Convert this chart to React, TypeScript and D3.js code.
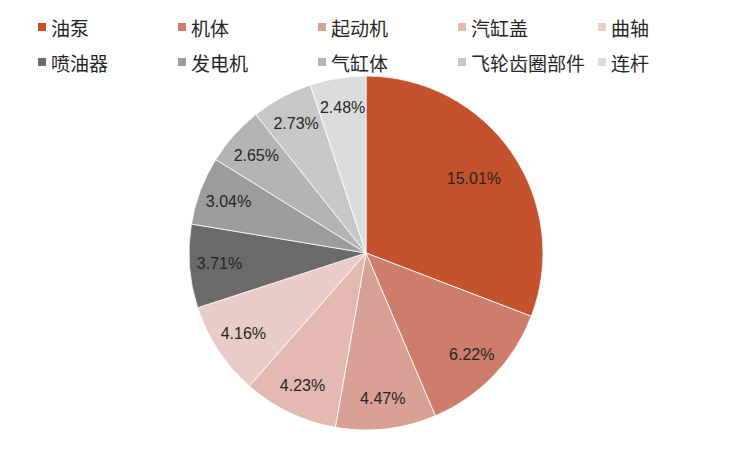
import * as d3 from "d3";

const categories = ["油泵", "机体", "起动机", "汽缸盖", "曲轴", "喷油器", "发电机", "气缸体", "飞轮齿圈部件", "连杆"];
const values = [15.01, 6.22, 4.47, 4.23, 4.16, 3.71, 3.04, 2.65, 2.73, 2.48];
const colors = [
  "#c4532d",
  "#ce7c6c",
  "#d9a095",
  "#e2b8b0",
  "#e9ccc7",
  "#6a6a6a",
  "#9c9c9c",
  "#b4b4b4",
  "#c7c7c7",
  "#dcdcdc",
];

const W = 750;
const H = 450;
const cx = 366;
const cy = 253;
const R = 177;

export default function App() {
  const pie = d3
    .pie<number>()
    .sort(null)
    .value((d) => d);
  const arcs = pie(values);
  const arc = d3.arc<d3.PieArcDatum<number>>().innerRadius(0).outerRadius(R);

  // labels sit near the rim, except a very wide slice which gets pulled in a bit
  const labelPos = (a: d3.PieArcDatum<number>) => {
    const k = a.endAngle - a.startAngle > Math.PI / 2 ? 0.74 : 0.83;
    const mid = (a.startAngle + a.endAngle) / 2;
    return [Math.sin(mid) * R * k, -Math.cos(mid) * R * k];
  };

  // legend: 2 rows x 5 columns
  const colX = d3.scaleLinear().domain([0, 1]).range([38, 178]);
  const rowY = d3.scaleLinear().domain([0, 1]).range([27, 62]);

  return (
    <svg
      width={W}
      height={H}
      style={{ display: "block", position: "absolute", left: 0, top: 0, background: "#fff" }}
    >
      <rect width={W} height={H} fill="#fff" />
      <g transform={`translate(${cx},${cy})`}>
        {arcs.map((a, i) => (
          <path key={i} d={arc(a) ?? ""} fill={colors[i]} stroke="#fff" strokeWidth={0.8} />
        ))}
        {arcs.map((a, i) => {
          const [x, y] = labelPos(a);
          return (
            <text
              key={i}
              x={x}
              y={y}
              textAnchor="middle"
              dominantBaseline="central"
              fontFamily="'Liberation Sans', Arial, sans-serif"
              fontSize={16}
              fill="#262626"
            >
              {values[i].toFixed(2)}%
            </text>
          );
        })}
      </g>
      <g>
        {categories.map((c, i) => {
          const col = i % 5;
          const row = Math.floor(i / 5);
          const x = colX(col);
          const y = rowY(row);
          return (
            <g key={c}>
              <rect x={x} y={y - 4} width={8} height={8} fill={colors[i]} />
              <text
                x={x + 13}
                y={y}
                dominantBaseline="central"
                fontFamily="'Noto Sans CJK SC', sans-serif"
                fontSize={19}
                fill="#262626"
              >
                {c}
              </text>
            </g>
          );
        })}
      </g>
    </svg>
  );
}
